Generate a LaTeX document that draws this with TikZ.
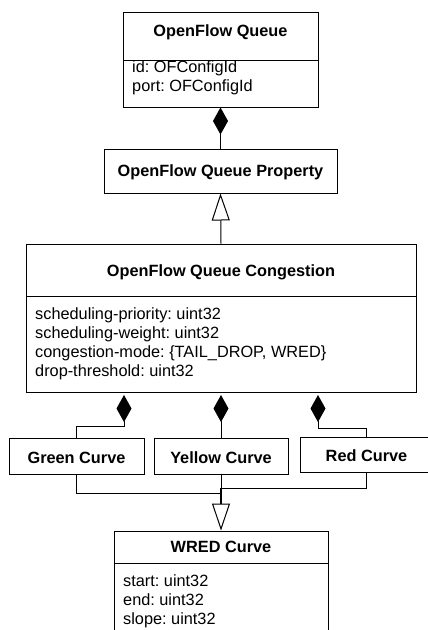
\documentclass[tikz,border=0pt]{standalone}
\usepackage{fontspec}
\setmainfont{Liberation Sans}
\usetikzlibrary{arrows.meta}
\begin{document}
\frenchspacing
\begin{tikzpicture}[x=1pt,y=-1pt,
  box/.style={draw, line width=1pt, inner sep=0pt},
  txt/.style={font=\fontsize{16.3}{19.3}\selectfont\frenchspacing, inner sep=0pt},
  ttl/.style={inner sep=0pt, font=\fontsize{16.3}{19.3}\selectfont\bfseries, anchor=base},
  attr/.style={txt, anchor=base west},
  ln/.style={line width=1pt},
  comp/.style={ln, -{Diamond[length=27pt,width=15pt]}},
  gen/.style={ln, -{Triangle[length=27pt,width=18pt,fill=white]}},
]
\useasboundingbox (0,0) rectangle (428,630);
\clip (0,0) rectangle (428,630);

% OpenFlow Queue
\node[box, minimum width=195pt, minimum height=95pt] (oq) at (220.5,59.5) {};
\node[ttl] (oqt) at (220.5,36.5) {OpenFlow Queue};
\draw[ln] (123,60) -- (318,60);
\node[attr] (oqa1) at (132,72.3) {id: OFConfigId};
\node[attr] (oqa2) at (132,91.5) {port: OFConfigId};

% Property
\node[box, minimum width=233pt, minimum height=44pt] (prop) at (220.5,171) {};
\node[ttl] (propt) at (220.5,176.7) {OpenFlow Queue Property};

% Congestion
\node[box, minimum width=390pt, minimum height=148pt] (cg) at (221,318) {};
\node[ttl] (cgt) at (221,276.5) {OpenFlow Queue Congestion};
\draw[ln] (26,296) -- (416,296);
\node[attr] (cga1) at (35,319.5) {scheduling-priority: uint32};
\node[attr] (cga2) at (35,338.6) {scheduling-weight: uint32};
\node[attr] (cga3) at (35,357.7) {congestion-mode: \{TAIL\_DROP, WRED\}};
\node[attr] (cga4) at (35,376.8) {drop-threshold: uint32};

% Curves
\node[box, minimum width=135pt, minimum height=36pt] (green) at (76.5,456) {};
\node[ttl] (greent) at (76.5,463) {Green Curve};
\node[box, minimum width=134pt, minimum height=36pt] (yellow) at (221,456) {};
\node[ttl] (yellowt) at (221,463) {Yellow Curve};
\node[box, minimum width=133pt, minimum height=35pt] (red) at (366.5,454.5) {};
\node[ttl] (redt) at (366.5,461) {Red Curve};

% WRED
\node[box, minimum width=214pt, minimum height=140pt] (wred) at (221,601) {};
\node[ttl] (wredt) at (221,552.3) {WRED Curve};
\draw[ln] (114,563) -- (328,563);
\node[attr] (wa1) at (123,586.7) {start: uint32};
\node[attr] (wa2) at (123,605.5) {end: uint32};
\node[attr] (wa3) at (123,624.3) {slope: uint32};

% connectors
\draw[comp] (prop.north) -- (oq.south);
\draw[gen] (cg.north) -- (prop.south);

\coordinate (gd) at (124,392);
\coordinate (ge) at (124,426);
\coordinate (yd) at (221,392);
\coordinate (rd) at (318,392);
\coordinate (re) at (318,428);
\draw[comp, shorten >=3pt] (green.north) |- (ge) -- (gd);
\draw[comp, shorten >=3pt] (yellow.north) -- (yd);
\draw[comp, shorten >=3pt] (red.north) |- (re) -- (rd);

\coordinate (j) at (221,488);
\coordinate (jg) at (221,493);
\coordinate (jt) at (221,504);
\draw[ln] (green.south) |- (jg);
\draw[ln] (red.south) |- (j);
\draw[ln] (yellow.south) -- (j);
\draw[gen] (j) -- (wred.north);
\draw[line width=2pt] (j) -- (jt);
\end{tikzpicture}
\end{document}
